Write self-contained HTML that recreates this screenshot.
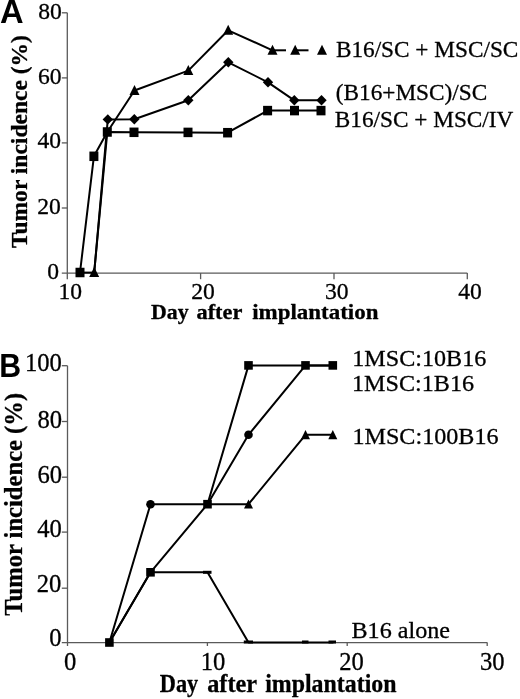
<!DOCTYPE html>
<html><head><meta charset="utf-8"><style>
html,body{margin:0;padding:0;background:#fff;}
svg{display:block;filter:grayscale(1);}
</style></head><body>
<svg width="520" height="699" viewBox="0 0 520 699">
<rect width="520" height="699" fill="#fff"/>
<line x1="67.3" y1="12.8" x2="67.3" y2="273.1" stroke="#5a5a5a" stroke-width="1.3"/>
<line x1="61.8" y1="273.1" x2="467.3" y2="273.1" stroke="#5a5a5a" stroke-width="1.3"/>
<line x1="61.8" y1="12.8" x2="67.3" y2="12.8" stroke="#5a5a5a" stroke-width="1.3"/>
<line x1="61.8" y1="77.9" x2="67.3" y2="77.9" stroke="#5a5a5a" stroke-width="1.3"/>
<line x1="61.8" y1="142.9" x2="67.3" y2="142.9" stroke="#5a5a5a" stroke-width="1.3"/>
<line x1="61.8" y1="208" x2="67.3" y2="208" stroke="#5a5a5a" stroke-width="1.3"/>
<line x1="67.3" y1="273.1" x2="67.3" y2="279.2" stroke="#5a5a5a" stroke-width="1.3"/>
<line x1="200.6" y1="273.1" x2="200.6" y2="279.2" stroke="#5a5a5a" stroke-width="1.3"/>
<line x1="334" y1="273.1" x2="334" y2="279.2" stroke="#5a5a5a" stroke-width="1.3"/>
<line x1="467.3" y1="273.1" x2="467.3" y2="279.2" stroke="#5a5a5a" stroke-width="1.3"/>
<polyline points="80,272.5 93.9,156.3 107.3,132 134,132.3 188,132.4 227.6,132.7 267.6,110.6 294.5,110.6 321,110.6" fill="none" stroke="#000" stroke-width="2" stroke-linejoin="round" stroke-linecap="round"/>
<polyline points="94.2,272.5 107.3,132 134.5,90.5 188.3,70.6 228.2,30.3 272.5,50.3" fill="none" stroke="#000" stroke-width="2" stroke-linejoin="round" stroke-linecap="round"/>
<polyline points="94.2,272.5 107.8,119.4 134.3,119.2 188.3,100.3 228.3,62.3 268,82.3 294.3,100.3 321.5,100.3" fill="none" stroke="#000" stroke-width="2" stroke-linejoin="round" stroke-linecap="round"/>
<line x1="272.5" y1="50.3" x2="286" y2="50.3" stroke="#000" stroke-width="2"/>
<line x1="295.2" y1="50.3" x2="308.5" y2="50.3" stroke="#000" stroke-width="2"/>
<line x1="80" y1="272.6" x2="94.2" y2="272.6" stroke="#000" stroke-width="2"/>
<rect x="75.5" y="267.75" width="9" height="9.5"/>
<rect x="89.4" y="151.55" width="9" height="9.5"/>
<rect x="102.8" y="127.25" width="9" height="9.5"/>
<rect x="129.5" y="127.55" width="9" height="9.5"/>
<rect x="183.5" y="127.65" width="9" height="9.5"/>
<rect x="223.1" y="127.95" width="9" height="9.5"/>
<rect x="263.1" y="105.85" width="9" height="9.5"/>
<rect x="290" y="105.85" width="9" height="9.5"/>
<rect x="316.5" y="105.85" width="9" height="9.5"/>
<polygon points="107.8,114.2 113,119.4 107.8,124.6 102.6,119.4"/>
<polygon points="134.3,114 139.5,119.2 134.3,124.4 129.1,119.2"/>
<polygon points="188.3,95.1 193.5,100.3 188.3,105.5 183.1,100.3"/>
<polygon points="228.3,57.1 233.5,62.3 228.3,67.5 223.1,62.3"/>
<polygon points="268,77.1 273.2,82.3 268,87.5 262.8,82.3"/>
<polygon points="294.3,95.1 299.5,100.3 294.3,105.5 289.1,100.3"/>
<polygon points="321.5,95.1 326.7,100.3 321.5,105.5 316.3,100.3"/>
<polygon points="134.5,85 139.5,95 129.5,95"/>
<polygon points="188.3,65.1 193.3,75.1 183.3,75.1"/>
<polygon points="228.2,24.8 233.2,34.8 223.2,34.8"/>
<polygon points="272.5,44.8 277.5,54.8 267.5,54.8"/>
<polygon points="295.2,44.8 300.2,54.8 290.2,54.8"/>
<polygon points="322,44.8 327,54.8 317,54.8"/>
<polygon points="94.2,267 99.2,277 89.2,277"/>
<line x1="67.5" y1="365.7" x2="67.5" y2="642.6" stroke="#5a5a5a" stroke-width="1.3"/>
<line x1="61.8" y1="642.6" x2="487.3" y2="642.6" stroke="#5a5a5a" stroke-width="1.3"/>
<line x1="61.8" y1="365.7" x2="67.5" y2="365.7" stroke="#5a5a5a" stroke-width="1.3"/>
<line x1="61.8" y1="421.5" x2="67.5" y2="421.5" stroke="#5a5a5a" stroke-width="1.3"/>
<line x1="61.8" y1="477.2" x2="67.5" y2="477.2" stroke="#5a5a5a" stroke-width="1.3"/>
<line x1="61.8" y1="532.1" x2="67.5" y2="532.1" stroke="#5a5a5a" stroke-width="1.3"/>
<line x1="61.8" y1="588.2" x2="67.5" y2="588.2" stroke="#5a5a5a" stroke-width="1.3"/>
<line x1="67.5" y1="642.6" x2="67.5" y2="646" stroke="#5a5a5a" stroke-width="1.3"/>
<line x1="207.4" y1="642.6" x2="207.4" y2="646" stroke="#5a5a5a" stroke-width="1.3"/>
<line x1="347.2" y1="642.6" x2="347.2" y2="646" stroke="#5a5a5a" stroke-width="1.3"/>
<line x1="487.2" y1="642.6" x2="487.2" y2="646" stroke="#5a5a5a" stroke-width="1.3"/>
<polyline points="109.4,642.5 150.5,572.3 207.5,504.2 248.5,365.4 305.5,365.4 332.8,365.4" fill="none" stroke="#000" stroke-width="2" stroke-linejoin="round" stroke-linecap="round"/>
<polyline points="109.4,642.5 150.5,504.2 207.5,504.2 248.5,434.8 305.5,365.4 332.8,365.4" fill="none" stroke="#000" stroke-width="2" stroke-linejoin="round" stroke-linecap="round"/>
<polyline points="207.5,504.2 248.5,504.2 305.5,434.8 332.8,434.8" fill="none" stroke="#000" stroke-width="2" stroke-linejoin="round" stroke-linecap="round"/>
<polyline points="109.4,642.5 150.5,572.3 207.5,572.3 248.5,642.5 305.5,642.5 332.8,642.5" fill="none" stroke="#000" stroke-width="2" stroke-linejoin="round" stroke-linecap="round"/>
<rect x="105.1" y="638.2" width="8.6" height="8.6"/>
<rect x="146.2" y="568" width="8.6" height="8.6"/>
<rect x="203.2" y="499.9" width="8.6" height="8.6"/>
<rect x="244.2" y="361.1" width="8.6" height="8.6"/>
<rect x="301.2" y="361.1" width="8.6" height="8.6"/>
<rect x="328.5" y="361.1" width="8.6" height="8.6"/>
<circle cx="150.5" cy="504.2" r="4.3"/>
<circle cx="248.5" cy="434.8" r="4.3"/>
<polygon points="248.5,499.4 253,508.6 244,508.6"/>
<polygon points="305.5,430 310,439.2 301,439.2"/>
<polygon points="332.8,430 337.3,439.2 328.3,439.2"/>
<rect x="203" y="570.8" width="8.5" height="3"/>
<rect x="243.8" y="640.5" width="9.2" height="3"/>
<rect x="302" y="640.5" width="6.5" height="3"/>
<rect x="328.5" y="640.5" width="7.5" height="3"/>
<text id="A" transform="translate(0.08 23.38) scale(1.0065 1)" font-family='"Liberation Sans", sans-serif' font-weight="bold" font-size="32.47" text-anchor="start">A</text>
<text id="B" transform="translate(-0.7 376.75) scale(0.9132 1)" font-family='"Liberation Sans", sans-serif' font-weight="bold" font-size="33.15" text-anchor="start">B</text>
<text id="Ay80" transform="translate(61.72 18.93) scale(1 1)" font-family='"Liberation Serif", serif' font-weight="normal" font-size="23.6" text-anchor="end" stroke="#000" stroke-width="0.3" stroke-linejoin="round">80</text>
<text id="Ay60" transform="translate(61.5 84.2) scale(1 1)" font-family='"Liberation Serif", serif' font-weight="normal" font-size="23.6" text-anchor="end" stroke="#000" stroke-width="0.3" stroke-linejoin="round">60</text>
<text id="Ay40" transform="translate(61.17 148.18) scale(1 1)" font-family='"Liberation Serif", serif' font-weight="normal" font-size="23.6" text-anchor="end" stroke="#000" stroke-width="0.3" stroke-linejoin="round">40</text>
<text id="Ay20" transform="translate(60.76 213.9) scale(1 1)" font-family='"Liberation Serif", serif' font-weight="normal" font-size="23.6" text-anchor="end" stroke="#000" stroke-width="0.3" stroke-linejoin="round">20</text>
<text id="Ay0" transform="translate(59.11 278.94) scale(1 1)" font-family='"Liberation Serif", serif' font-weight="normal" font-size="23.6" text-anchor="end" stroke="#000" stroke-width="0.3" stroke-linejoin="round">0</text>
<text id="Ax10" transform="translate(70.22 298.7) scale(1 1)" font-family='"Liberation Serif", serif' font-weight="normal" font-size="23.6" text-anchor="middle" stroke="#000" stroke-width="0.3" stroke-linejoin="round">10</text>
<text id="Ax20" transform="translate(203.12 298.7) scale(1 1)" font-family='"Liberation Serif", serif' font-weight="normal" font-size="23.6" text-anchor="middle" stroke="#000" stroke-width="0.3" stroke-linejoin="round">20</text>
<text id="Ax30" transform="translate(336.76 298.7) scale(1 1)" font-family='"Liberation Serif", serif' font-weight="normal" font-size="23.6" text-anchor="middle" stroke="#000" stroke-width="0.3" stroke-linejoin="round">30</text>
<text id="Ax40" transform="translate(470.1 298.7) scale(1 1)" font-family='"Liberation Serif", serif' font-weight="normal" font-size="23.6" text-anchor="middle" stroke="#000" stroke-width="0.3" stroke-linejoin="round">40</text>
<text id="Axt1" transform="translate(151.1 319.4) scale(1.0252 1)" font-family='"Liberation Serif", serif' font-weight="bold" font-size="21.3" text-anchor="start" stroke="#000" stroke-width="0.3" stroke-linejoin="round">Day</text>
<text id="Axt2" transform="translate(196.5 319.4) scale(1.0486 1)" font-family='"Liberation Serif", serif' font-weight="bold" font-size="21.3" text-anchor="start" stroke="#000" stroke-width="0.3" stroke-linejoin="round">after</text>
<text id="Axt3" transform="translate(252.23 319.4) scale(1.0783 1)" font-family='"Liberation Serif", serif' font-weight="bold" font-size="21.3" text-anchor="start" stroke="#000" stroke-width="0.3" stroke-linejoin="round">implantation</text>
<text id="Ayt" transform="translate(27.08 248.1) rotate(-90) scale(1.049 1)" font-family='"Liberation Serif", serif' font-weight="bold" font-size="22.44" text-anchor="start" stroke="#000" stroke-width="0.3" stroke-linejoin="round">Tumor incidence (%)</text>
<text id="Al1" transform="translate(335.88 56.54) scale(0.99 1)" font-family='"Liberation Serif", serif' font-weight="normal" font-size="23.5" text-anchor="start" stroke="#000" stroke-width="0.3" stroke-linejoin="round">B16/SC + MSC/SC</text>
<text id="Al2" transform="translate(335.8 99.6) scale(0.99 1)" font-family='"Liberation Serif", serif' font-weight="normal" font-size="23.5" text-anchor="start" stroke="#000" stroke-width="0.3" stroke-linejoin="round">(B16+MSC)/SC</text>
<text id="Al3" transform="translate(334.8 126.56) scale(0.99 1)" font-family='"Liberation Serif", serif' font-weight="normal" font-size="23.5" text-anchor="start" stroke="#000" stroke-width="0.3" stroke-linejoin="round">B16/SC + MSC/IV</text>
<text id="By100" transform="translate(61.91 371.22) scale(1 1)" font-family='"Liberation Serif", serif' font-weight="normal" font-size="24.6" text-anchor="end" stroke="#000" stroke-width="0.3" stroke-linejoin="round">100</text>
<text id="By80" transform="translate(62.16 428.1) scale(1 1)" font-family='"Liberation Serif", serif' font-weight="normal" font-size="24.6" text-anchor="end" stroke="#000" stroke-width="0.3" stroke-linejoin="round">80</text>
<text id="By60" transform="translate(62.04 482.68) scale(1 1)" font-family='"Liberation Serif", serif' font-weight="normal" font-size="24.6" text-anchor="end" stroke="#000" stroke-width="0.3" stroke-linejoin="round">60</text>
<text id="By40" transform="translate(61.78 536.52) scale(1 1)" font-family='"Liberation Serif", serif' font-weight="normal" font-size="24.6" text-anchor="end" stroke="#000" stroke-width="0.3" stroke-linejoin="round">40</text>
<text id="By20" transform="translate(61.38 592.04) scale(1 1)" font-family='"Liberation Serif", serif' font-weight="normal" font-size="24.6" text-anchor="end" stroke="#000" stroke-width="0.3" stroke-linejoin="round">20</text>
<text id="By0" transform="translate(61.56 646.26) scale(1 1)" font-family='"Liberation Serif", serif' font-weight="normal" font-size="24.6" text-anchor="end" stroke="#000" stroke-width="0.3" stroke-linejoin="round">0</text>
<text id="Bx0" transform="translate(70.16 669.6) scale(1 1)" font-family='"Liberation Serif", serif' font-weight="normal" font-size="24.6" text-anchor="middle" stroke="#000" stroke-width="0.3" stroke-linejoin="round">0</text>
<text id="Bx10" transform="translate(213.06 669.6) scale(1 1)" font-family='"Liberation Serif", serif' font-weight="normal" font-size="24.6" text-anchor="middle" stroke="#000" stroke-width="0.3" stroke-linejoin="round">10</text>
<text id="Bx20" transform="translate(351.58 669.6) scale(1 1)" font-family='"Liberation Serif", serif' font-weight="normal" font-size="24.6" text-anchor="middle" stroke="#000" stroke-width="0.3" stroke-linejoin="round">20</text>
<text id="Bx30" transform="translate(492.3 669.6) scale(1 1)" font-family='"Liberation Serif", serif' font-weight="normal" font-size="24.6" text-anchor="middle" stroke="#000" stroke-width="0.3" stroke-linejoin="round">30</text>
<text id="Bxt1" transform="translate(159.82 691.7) scale(0.8822 1)" font-family='"Liberation Serif", serif' font-weight="bold" font-size="25.3" text-anchor="start" stroke="#000" stroke-width="0.3" stroke-linejoin="round">Day</text>
<text id="Bxt2" transform="translate(207.19 691.7) scale(0.9597 1)" font-family='"Liberation Serif", serif' font-weight="bold" font-size="25.3" text-anchor="start" stroke="#000" stroke-width="0.3" stroke-linejoin="round">after</text>
<text id="Bxt3" transform="translate(265.14 691.7) scale(0.9445 1)" font-family='"Liberation Serif", serif' font-weight="bold" font-size="25.3" text-anchor="start" stroke="#000" stroke-width="0.3" stroke-linejoin="round">implantation</text>
<text id="Byt" transform="translate(22.22 615.68) rotate(-90) scale(0.9931 1)" font-family='"Liberation Serif", serif' font-weight="bold" font-size="24.79" text-anchor="start" stroke="#000" stroke-width="0.3" stroke-linejoin="round">Tumor incidence (%)</text>
<text id="Bl1" transform="translate(352.24 365.86) scale(1.04 1)" font-family='"Liberation Serif", serif' font-weight="normal" font-size="23.2" text-anchor="start" stroke="#000" stroke-width="0.3" stroke-linejoin="round">1MSC:10B16</text>
<text id="Bl2" transform="translate(352.06 390.94) scale(1.04 1)" font-family='"Liberation Serif", serif' font-weight="normal" font-size="23.2" text-anchor="start" stroke="#000" stroke-width="0.3" stroke-linejoin="round">1MSC:1B16</text>
<text id="Bl3" transform="translate(352.44 444.08) scale(1.04 1)" font-family='"Liberation Serif", serif' font-weight="normal" font-size="23.2" text-anchor="start" stroke="#000" stroke-width="0.3" stroke-linejoin="round">1MSC:100B16</text>
<text id="Bl4" transform="translate(351.52 637.5) scale(1.04 1)" font-family='"Liberation Serif", serif' font-weight="normal" font-size="23.2" text-anchor="start" stroke="#000" stroke-width="0.3" stroke-linejoin="round">B16 alone</text>
</svg>
</body></html>
